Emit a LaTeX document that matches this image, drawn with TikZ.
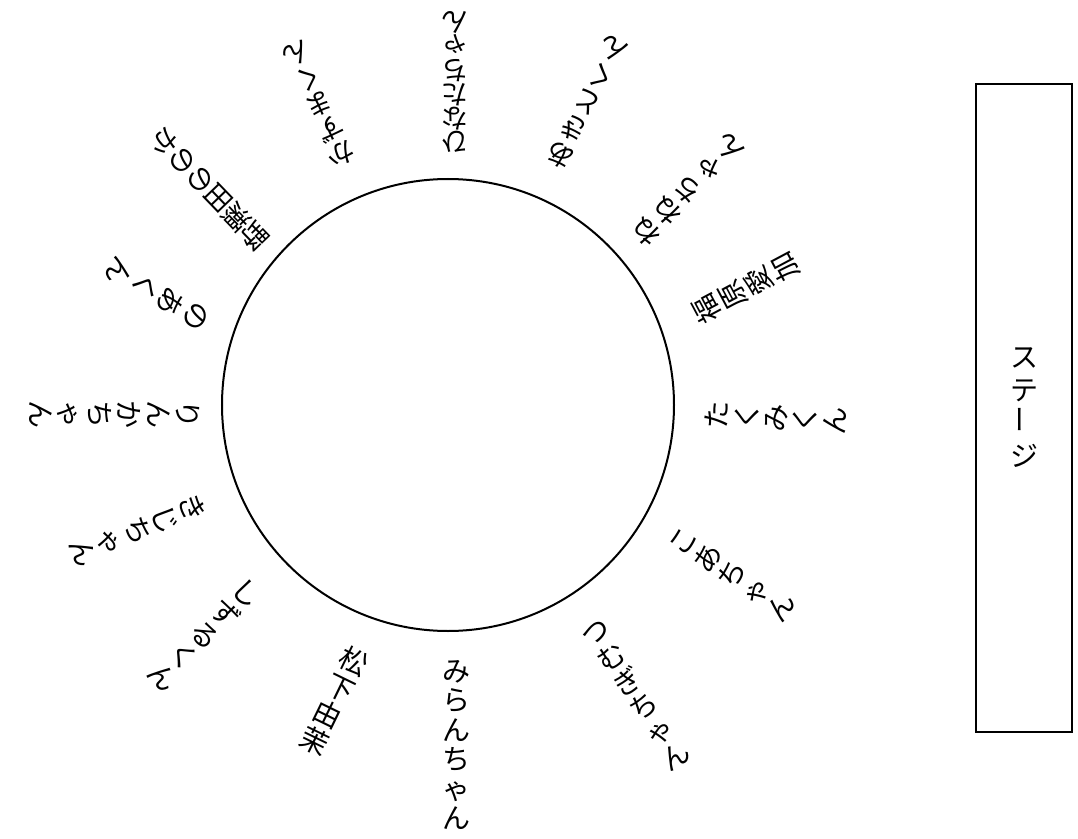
\documentclass[tikz,border=0pt]{standalone}
\usepackage{fontspec}
\newfontfamily\jpfont{Noto Sans CJK JP}
\usetikzlibrary{calc}

\begin{document}
\begin{tikzpicture}[
    x=1pt, y=1pt,
    guest/.style={font=\jpfont\fontsize{28}{29.5}\selectfont, align=center, inner sep=0pt, anchor=north}, % one name, read from the table outwards
    squeezed/.style={font=\jpfont\fontsize{27}{#1}\selectfont}, % names near the top sit closer together
    stagebox/.style={draw, line width=1.3pt, minimum width=96pt, minimum height=648pt, inner sep=0pt}
]

    % Define table parameters
    \coordinate (Center) at (0,0);
    \def\radius{226}
    \useasboundingbox (-448,-433) rectangle (630,405);

    % Draw the round table
    \draw[line width=2pt] (Center) circle (\radius);

    % Names round the table, each one starting just outside the circle
    \node[guest, squeezed=24, rotate=180] (hinata) at ($(Center)+(88.4:252)$) {ひ\\な\\た\\ち\\ゃ\\ん};
    \node[guest, rotate=153] (akito) at ($(Center)+(66:262)$) {あ\\き\\と\\く\\ん};
    \node[guest, rotate=135] (nene) at ($(Center)+(41:251)$) {ね\\ね\\ち\\ゃ\\ん};
    \node[guest, rotate=118] (aika) at ($(Center)+(20:263)$) {福\\原\\愛\\加};
    \node[guest, rotate=87] (takumi) at ($(Center)+(-2:257)$) {た\\く\\み\\く\\ん};
    \node[guest, rotate=56] (koa) at ($(Center)+(-30:262)$) {こ\\あ\\ち\\ゃ\\ん};
    \node[guest, rotate=33] (tsumugi) at ($(Center)+(-57:263)$) {つ\\む\\ぎ\\ち\\ゃ\\ん};
    \node[guest, rotate=0] (miran) at ($(Center)+(-88:255)$) {み\\ら\\ん\\ち\\ゃ\\ん};
    \node[guest, rotate=-26] (yuma) at ($(Center)+(-110:260)$) {松\\下\\由\\茉};
    \node[guest, rotate=-45] (shizuru) at ($(Center)+(-137:264)$) {し\\ず\\る\\く\\ん};
    \node[guest, rotate=-68] (kiji) at ($(Center)+(-158:263)$) {き\\じ\\ち\\ゃ\\ん};
    \node[guest, rotate=-90] (rinka) at ($(Center)+(-177.7:248)$) {り\\ん\\か\\ち\\ゃ\\ん};
    \node[guest, rotate=240] (noa) at ($(Center)+(161:257)$) {の\\あ\\く\\ん};
    \node[guest, squeezed=26, rotate=224] (nonoka) at ($(Center)+(139:245)$) {野\\瀬\\田\\の\\の\\か};
    \node[guest, squeezed=27.5, rotate=204] (kazuma) at ($(Center)+(113:261)$) {か\\ず\\ま\\く\\ん};

    % The stage on the right
    \node[stagebox, font=\jpfont\fontsize{28}{33}\selectfont, align=center] (stage) at (576,-3)
        {ス\\テ\\\rotatebox{90}{ー}\\ジ};

\end{tikzpicture}
\end{document}
